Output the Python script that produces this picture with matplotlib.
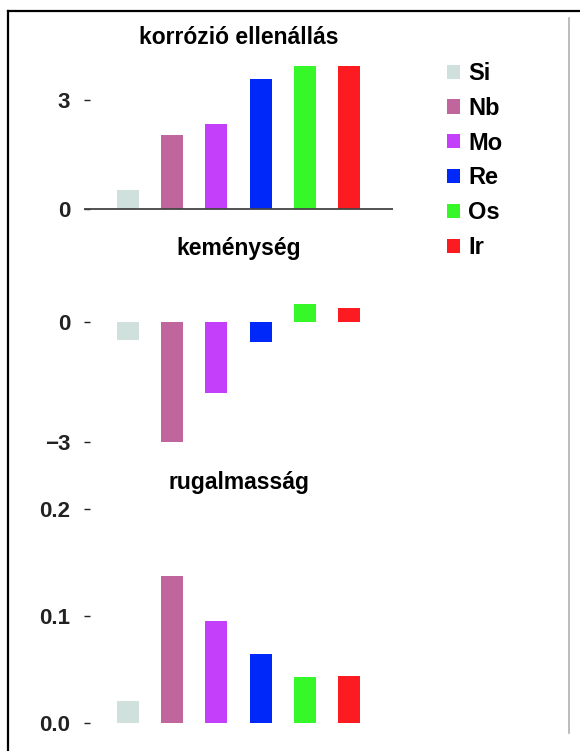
import matplotlib
matplotlib.use('Agg')
import matplotlib.pyplot as plt
from matplotlib.lines import Line2D
from matplotlib.patches import Patch

plt.rcParams['font.family'] = ['Liberation Sans', 'DejaVu Sans']
plt.rcParams['font.weight'] = 'bold'

# data
elements = ['Si', 'Nb', 'Mo', 'Re', 'Os', 'Ir']
colors = ['#d0e0dc', '#c0669c', '#c43ff9', '#0028f8', '#36f829', '#fb1b20']
korrozio = [0.52, 2.03, 2.35, 3.59, 3.93, 3.93]
kemenyseg = [-0.45, -3.0, -1.78, -0.5, 0.45, 0.37]
rugalmassag = [0.0205, 0.1376, 0.095, 0.065, 0.043, 0.0444]

titles = ['korrózió ellenállás', 'keménység', 'rugalmasság']
yticks = [[0, 3], [-3, 0], [0.0, 0.1, 0.2]]
yticklabels = [['0', '3'], ['\u22123', '0'], ['0.0', '0.1', '0.2']]

W, H = 580, 751
fig = plt.figure(figsize=(W / 100, H / 100), dpi=100)

def box(left, top, right, bottom):
    # pixel box -> figure fraction
    return [left / W, 1 - bottom / H, (right - left) / W, (bottom - top) / H]

# (ylim, top px, bottom px, title y px)
panels = [
    ((-0.15, 4.25), 54.6, 214.4, 37),
    ((-3.2, 0.7), 294.4, 449.7, 248),
    ((-0.005, 0.21), 498.0, 728.7, 482),
]
series = [korrozio, kemenyseg, rugalmassag]
x = list(range(1, len(elements) + 1))

axes = []
for i, ((ylim, top, bot, ty), vals) in enumerate(zip(panels, series)):
    ax = fig.add_axes(box(84, top, 393, bot))
    ax.bar(x, vals, width=0.5, color=colors)
    ax.set_xlim(0, 7)
    ax.set_ylim(*ylim)
    for s in ax.spines.values():
        s.set_visible(False)
    ax.set_xticks([])
    ax.set_yticks(yticks[i])
    ax.set_yticklabels(yticklabels[i])
    ax.tick_params(axis='y', direction='in', length=4, width=1, pad=10,
                   labelsize=16, colors='#222222')
    fig.text(238.5 / W, 1 - ty / H, titles[i], ha='center', va='center',
             fontsize=16.5, fontweight='bold')
    axes.append(ax)

axes[0].axhline(0, color='#444444', lw=1.3)

handles = [Patch(facecolor=c, edgecolor='none') for c in colors]
fig.legend(handles, elements, loc='upper left',
           bbox_to_anchor=(447 / W, 1 - 62 / H), frameon=False,
           borderpad=0, borderaxespad=0, handlelength=0.55, handleheight=0.55,
           handletextpad=0.35, labelspacing=0.5,
           prop={'size': 17, 'weight': 'bold'})

# border lines of the cropped frame
fig.add_artist(Line2D([8 / W, 1], [1 - 11 / H, 1 - 11 / H], color='black', lw=1.6))
fig.add_artist(Line2D([8 / W, 8 / W], [0, 1 - 11 / H], color='black', lw=1.6))
fig.add_artist(Line2D([569 / W, 569 / W], [1 - 733 / H, 1 - 18 / H],
                      color='#b0b0b0', lw=1.2))

fig.savefig('out.png', dpi=100)
